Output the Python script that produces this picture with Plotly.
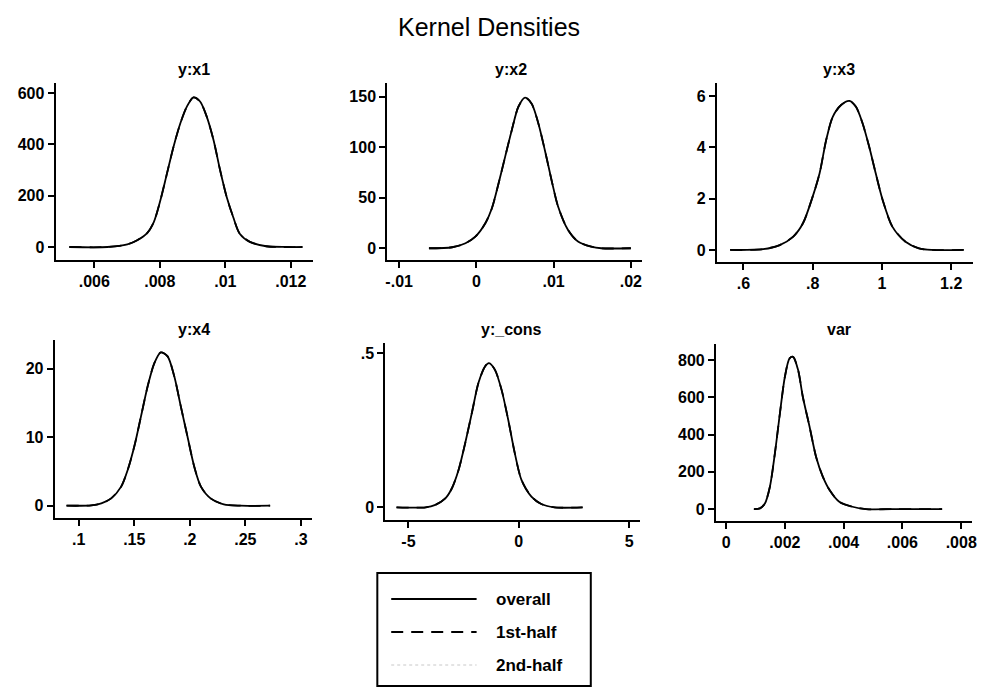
import plotly.graph_objects as go

W, H = 986, 688

# ---------------- data ----------------
panel_titles = ["y:x1", "y:x2", "y:x3", "y:x4", "y:_cons", "var"]
series_names = ["overall", "1st-half", "2nd-half"]

yx1_grid = [0.00524, 0.0064, 0.00701, 0.00731, 0.00762, 0.00782, 0.00802, 0.00822, 0.00842, 0.00863,
            0.00883, 0.00903, 0.00923, 0.00943, 0.00964, 0.00984, 0.01004, 0.01024, 0.01044, 0.01075,
            0.01125, 0.01186, 0.01236]
yx1_overall = [0, 0, 10, 26, 55, 98, 183, 287, 391, 483, 548, 583, 567, 509, 417, 300, 196, 117, 52, 20, 3, 0, 0]

yx2_grid = [-0.00614, -0.00314, -0.00141, -0.00013, 0.00116, 0.00201, 0.00287, 0.00373, 0.00459, 0.00544,
            0.0063, 0.00716, 0.00801, 0.00887, 0.00973, 0.01059, 0.01187, 0.01316, 0.01487, 0.01616, 0.02]
yx2_overall = [0, 1, 5, 11.5, 24.7, 39.6, 64, 90.7, 117, 140, 149, 143, 124, 97, 67.6, 41, 18, 6.6, 1.6, 0, 0]

yx3_grid = [0.5617, 0.657, 0.705, 0.744, 0.772, 0.8, 0.82, 0.839, 0.858, 0.882, 0.906, 0.925, 0.944, 0.963,
            0.982, 1.002, 1.03, 1.068, 1.107, 1.145, 1.236]
yx3_overall = [0, 0.03, 0.19, 0.52, 1.04, 2.08, 2.99, 4.29, 5.19, 5.65, 5.81, 5.58, 4.94, 4.03, 2.99, 1.95,
               0.91, 0.32, 0.06, 0, 0]

yx4_grid = [0.089, 0.1113, 0.1203, 0.1292, 0.1382, 0.1441, 0.15, 0.156, 0.162, 0.168, 0.1739, 0.18, 0.186,
            0.1919, 0.1979, 0.204, 0.21, 0.2187, 0.2306, 0.2455, 0.2723]
yx4_overall = [0, 0.05, 0.34, 1.07, 2.78, 5.22, 8.63, 13.0, 17.4, 20.8, 22.4, 21.8, 18.9, 14.5, 10.1, 5.7,
               2.78, 1.07, 0.2, 0, 0]

ycons_grid = [-5.54, -4.22, -3.78, -3.33, -3.03, -2.73, -2.43, -2.13, -1.83, -1.53, -1.35, -1.08, -0.78,
              -0.48, -0.18, 0.12, 0.57, 1.02, 1.62, 2.89]
ycons_overall = [0, 0, 0.008, 0.029, 0.062, 0.121, 0.208, 0.305, 0.403, 0.457, 0.468, 0.446, 0.381, 0.284,
                 0.175, 0.089, 0.035, 0.011, 0, 0]

var_grid = [0.000946, 0.00115, 0.00132, 0.00149, 0.00166, 0.00183, 0.002, 0.00216, 0.00228, 0.00245,
            0.00261, 0.00284, 0.00306, 0.00329, 0.00352, 0.00385, 0.0043, 0.00476, 0.00577, 0.00735]
var_overall = [0, 3.6, 30, 120, 299, 513, 710, 809, 817, 746, 603, 442, 281, 174, 102, 39, 12.5, 0, 0, 0]

# the half-sample curves coincide with the overall curve in the picture
yx1_first, yx1_second = list(yx1_overall), list(yx1_overall)
yx2_first, yx2_second = list(yx2_overall), list(yx2_overall)
yx3_first, yx3_second = list(yx3_overall), list(yx3_overall)
yx4_first, yx4_second = list(yx4_overall), list(yx4_overall)
ycons_first, ycons_second = list(ycons_overall), list(ycons_overall)
var_first, var_second = list(var_overall), list(var_overall)

x_tickvals = [[0.006, 0.008, 0.01, 0.012], [-0.01, 0, 0.01, 0.02], [0.6, 0.8, 1, 1.2],
              [0.1, 0.15, 0.2, 0.25, 0.3], [-5, 0, 5], [0, 0.002, 0.004, 0.006, 0.008]]
x_ticktext = [[".006", ".008", ".01", ".012"], ["-.01", "0", ".01", ".02"], [".6", ".8", "1", "1.2"],
              [".1", ".15", ".2", ".25", ".3"], ["-5", "0", "5"], ["0", ".002", ".004", ".006", ".008"]]
y_tickvals = [[0, 200, 400, 600], [0, 50, 100, 150], [0, 2, 4, 6], [0, 10, 20], [0, 0.5],
              [0, 200, 400, 600, 800]]
y_ticktext = [["0", "200", "400", "600"], ["0", "50", "100", "150"], ["0", "2", "4", "6"], ["0", "10", "20"],
              ["0", ".5"], ["0", "200", "400", "600", "800"]]

# ---------------- layout geometry (pixels) ----------------
x_ranges = [[0.00482, 0.01267], [-0.01154, 0.0215], [0.5235, 1.263], [0.0783, 0.3098], [-6.05, 5.51],
            [-0.000348, 0.00837]]
y_ranges = [[-50.6, 639], [-11.6, 163.5], [-0.47, 6.51], [-1.8, 24.2], [-0.041, 0.533], [-64, 886]]
x_px = [(54, 313), (388, 645), (720, 978), (53, 312), (386, 643), (719, 977)]
y_px = [(83, 260), (83, 260), (83, 262), (340, 518), (343, 520), (344, 521)]
title_px = [(193, 70), (513, 70), (843, 70), (193, 329), (513, 329), (843, 329)]

grids = [yx1_grid, yx2_grid, yx3_grid, yx4_grid, ycons_grid, var_grid]
overall = [yx1_overall, yx2_overall, yx3_overall, yx4_overall, ycons_overall, var_overall]
first = [yx1_first, yx2_first, yx3_first, yx4_first, ycons_first, var_first]
second = [yx1_second, yx2_second, yx3_second, yx4_second, ycons_second, var_second]

FONT = "Liberation Sans, Arial, sans-serif"
DASH = "12px,8px"

fig = go.Figure()
layout = dict(
    width=W, height=H, margin=dict(l=0, r=0, t=0, b=0),
    paper_bgcolor="white", plot_bgcolor="white", showlegend=False,
    font=dict(family=FONT, color="black"),
)

annotations = []
shapes = []
for i in range(6):
    n = "" if i == 0 else str(i + 1)
    xa, ya = "x" + n, "y" + n
    fig.add_trace(go.Scatter(x=grids[i], y=second[i], mode="lines", name=series_names[2], xaxis=xa, yaxis=ya,
                             line=dict(color="#c8c8c8", width=1, dash="dot", shape="spline", smoothing=0.8)))
    fig.add_trace(go.Scatter(x=grids[i], y=first[i], mode="lines", name=series_names[1], xaxis=xa, yaxis=ya,
                             line=dict(color="black", width=1.8, dash=DASH, shape="spline", smoothing=0.8)))
    fig.add_trace(go.Scatter(x=grids[i], y=overall[i], mode="lines", name=series_names[0], xaxis=xa, yaxis=ya,
                             line=dict(color="black", width=1.8, shape="spline", smoothing=0.8)))
    axis_common = dict(showline=True, linecolor="black", linewidth=2, ticks="outside", ticklen=6,
                       tickwidth=1.5, tickcolor="black", showgrid=False, zeroline=False,
                       tickfont=dict(family=FONT, size=16, color="black", weight="bold"))
    layout["xaxis" + n] = dict(axis_common, domain=[x_px[i][0] / W, x_px[i][1] / W], anchor=ya,
                               range=x_ranges[i], tickmode="array", tickvals=x_tickvals[i],
                               ticktext=x_ticktext[i])
    layout["yaxis" + n] = dict(axis_common, domain=[1 - y_px[i][1] / H, 1 - y_px[i][0] / H], anchor=xa,
                               range=y_ranges[i], tickmode="array", tickvals=y_tickvals[i],
                               ticktext=y_ticktext[i])
    annotations.append(dict(text=panel_titles[i], x=title_px[i][0] / W, y=1 - title_px[i][1] / H,
                            xref="paper", yref="paper", showarrow=False, xanchor="center", yanchor="middle",
                            font=dict(family=FONT, size=16, color="black", weight="bold")))

# main title
annotations.append(dict(text="Kernel Densities", x=490 / W, y=1 - 27 / H, xref="paper", yref="paper",
                        showarrow=False, xanchor="center", yanchor="middle",
                        font=dict(family=FONT, size=25, color="black")))

# legend box
shapes.append(dict(type="rect", xref="paper", yref="paper", x0=378 / W, x1=593 / W,
                   y0=1 - 686 / H, y1=1 - 573 / H, line=dict(color="black", width=2), fillcolor="white",
                   layer="below"))
leg_styles = [dict(color="black", width=1.8, dash="solid"), dict(color="black", width=1.8, dash=DASH),
              dict(color="#c8c8c8", width=1, dash="dot")]
leg_y = [599, 632, 665]
for k in range(3):
    shapes.append(dict(type="line", xref="paper", yref="paper", x0=392 / W, x1=478 / W,
                       y0=1 - leg_y[k] / H, y1=1 - leg_y[k] / H, line=leg_styles[k]))
    annotations.append(dict(text=series_names[k], x=496 / W, y=1 - leg_y[k] / H, xref="paper", yref="paper",
                            showarrow=False, xanchor="left", yanchor="middle",
                            font=dict(family=FONT, size=17, color="black", weight="bold")))

layout["annotations"] = annotations
layout["shapes"] = shapes
fig.update_layout(**layout)
fig.write_html("out.html")
